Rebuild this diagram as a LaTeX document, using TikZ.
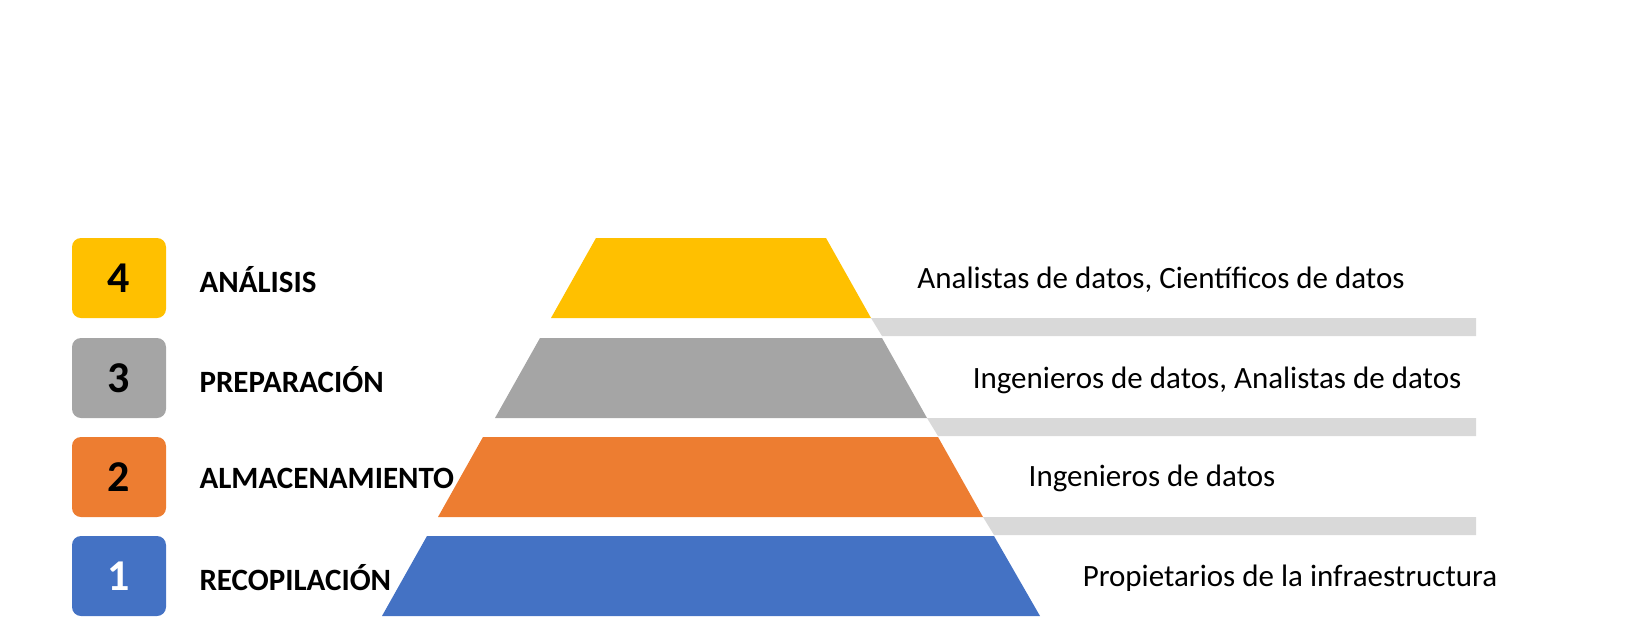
\documentclass[tikz,border=0pt]{standalone}
\usepackage{fontspec}
\setmainfont{Carlito}
\definecolor{cfour}{HTML}{FFC000}
\definecolor{cthree}{HTML}{A5A5A5}
\definecolor{ctwo}{HTML}{ED7D31}
\definecolor{cone}{HTML}{4472C4}
\definecolor{cbar}{HTML}{D9D9D9}
\begin{document}
\begin{tikzpicture}[x=1pt,y=-1pt,
    numbox/.style={rounded corners=9pt,minimum width=94pt,minimum height=80pt,inner sep=0pt,font=\fontsize{44}{48}\selectfont\bfseries},
    stagelbl/.style={anchor=west,font=\fontsize{31}{36}\selectfont\bfseries},
    rolelbl/.style={font=\fontsize{31}{36}\selectfont}]
\useasboundingbox (0,0) rectangle (1627,640);
% gray bars
\fill[cbar] (871,318) -- (1476,318) -- (1476,336) -- (882,336) -- cycle;
\fill[cbar] (927,418) -- (1476,418) -- (1476,436) -- (938,436) -- cycle;
\fill[cbar] (983,517) -- (1476,517) -- (1476,535) -- (994,535) -- cycle;
% pyramid
\fill[cfour]  (596,238) -- (826,238) -- (871,318) -- (551,318) -- cycle;
\fill[cthree] (540,338) -- (882,338) -- (927,418) -- (495,418) -- cycle;
\fill[ctwo]   (483,437) -- (938,437) -- (983,517) -- (438,517) -- cycle;
\fill[cone]   (427,536) -- (994,536) -- (1040,616) -- (382,616) -- cycle;
% numbers
\node[numbox,fill=cfour] (n4) at (119,278) {4};
\node[numbox,fill=cthree] (n3) at (119,378) {3};
\node[numbox,fill=ctwo] (n2) at (119,477) {2};
\node[numbox,fill=cone,text=white] (n1) at (119,576) {1};
% stages
\node[stagelbl] (s4) at (196,280) {ANÁLISIS};
\node[stagelbl] (s3) at (196,380) {PREPARACIÓN};
\node[stagelbl] (s2) at (196,478) {ALMACENAMIENTO};
\node[stagelbl] (s1) at (196,578) {RECOPILACIÓN};
% roles
\node[rolelbl] (r4) at (1161,280) {Analistas de datos, Científicos de datos};
\node[rolelbl] (r3) at (1217,380) {Ingenieros de datos, Analistas de datos};
\node[rolelbl] (r2) at (1152,478) {Ingenieros de datos};
\node[rolelbl] (r1) at (1290,578) {Propietarios de la infraestructura};
\end{tikzpicture}
\end{document}
